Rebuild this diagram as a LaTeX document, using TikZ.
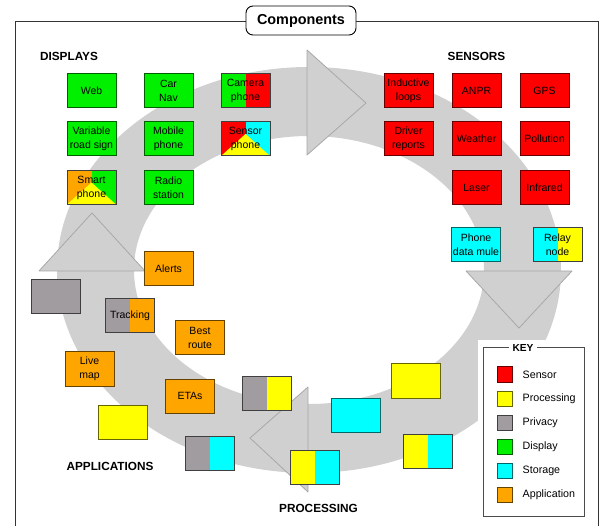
\documentclass[tikz,border=0pt]{standalone}
\usepackage{fontspec}
\setmainfont{Liberation Sans}
\usepackage{tikz}
\usetikzlibrary{positioning}
\definecolor{sensred}{HTML}{FF0000}
\definecolor{procyel}{HTML}{FFFF00}
\definecolor{privgray}{HTML}{A09CA0}
\definecolor{dispgreen}{HTML}{00F000}
\definecolor{storcyan}{HTML}{00FFFF}
\definecolor{applorange}{HTML}{FFA500}
\definecolor{ringgray}{HTML}{D0D0D0}
\definecolor{edgegray}{HTML}{A8A8A8}

\begin{document}
\begin{tikzpicture}[x=1pt,y=1pt,node distance=13.5pt and 27pt,font=\fontsize{10.5}{14}\selectfont,
 comp/.style={minimum width=49pt,minimum height=34pt,inner sep=0pt,align=center,line width=1pt},
 sensor/.style={comp,fill=sensred,draw=sensred!40!black},
 proc/.style={comp,fill=procyel,draw=procyel!40!black},
 priv/.style={comp,fill=privgray,draw=privgray!40!black},
 display/.style={comp,fill=dispgreen,draw=dispgreen!40!black},
 stor/.style={comp,fill=storcyan,draw=storcyan!40!black},
 appl/.style={comp,fill=applorange,draw=applorange!40!black},
 halves/.style 2 args={comp,draw=black!75,path picture={\fill[#1] (path picture bounding box.south west) rectangle (path picture bounding box.north); \fill[#2] (path picture bounding box.south) rectangle (path picture bounding box.north east);}},
 thirds/.style n args={3}{comp,draw=black!75,path picture={\fill[#1] (path picture bounding box.south west) rectangle (path picture bounding box.north); \fill[#2] (path picture bounding box.south) rectangle (path picture bounding box.north east); \fill[#3] (path picture bounding box.south west) -- ([yshift=5pt]path picture bounding box.center) -- (path picture bounding box.south east) -- cycle;}},
 bigarrow/.style={fill=ringgray,draw=edgegray,line width=0.8pt,line join=round},
 group/.style={font=\bfseries\fontsize{11.8}{14}\selectfont},
 keysq/.style={minimum width=15pt,minimum height=15pt,inner sep=0pt,line width=1pt},
 keytext/.style={font=\fontsize{10.7}{13}\selectfont,inner sep=0pt}]
\useasboundingbox (0,0) rectangle (602,525);
\draw[black!80,line width=0.9pt] (15,-10) rectangle (598,504);
\node[draw,fill=white,rounded corners=7pt,line width=0.9pt,minimum width=110pt,minimum height=29pt,font=\bfseries\fontsize{14.4}{17}\selectfont] (title) at (301,504.5) {Components};

\fill[ringgray,even odd rule] (309,255) ellipse [x radius=252,y radius=203] (309,255) ellipse [x radius=175,y radius=134];
\filldraw[bigarrow] (307,475) -- (307,370) -- (366,422) -- cycle;
\filldraw[bigarrow] (466,254) -- (572,254) -- (519,197) -- cycle;
\filldraw[bigarrow] (308,138) -- (308,33) -- (250,87) -- cycle;
\filldraw[bigarrow] (39,254) -- (145,254) -- (92,312) -- cycle;

\node[group] (displays) at (69,469) {DISPLAYS};
\node[group] (sensors) at (476.5,469) {SENSORS};
\node[group] (applications) at (110,59) {APPLICATIONS};
\node[group] (processing) at (318.5,17) {PROCESSING};

\node[display] (web) at (91.5,434.5) {Web};
\node[display,right=of web] (carnav) {Car\\Nav};
\node[halves={dispgreen}{sensred},right=of carnav] (camphone) {Camera\\phone};
\node[display,below=of web] (roadsign) {Variable\\road sign};
\node[display,below=of carnav] (mobile) {Mobile\\phone};
\node[thirds={sensred}{storcyan}{procyel},below=of camphone] (sensphone) {Sensor\\phone};
\node[thirds={applorange}{dispgreen}{procyel},below=of roadsign] (smart) {Smart\\phone};
\node[display,below=of mobile] (radio) {Radio\\station};

\node[sensor] (loops) at (408.5,434.5) {Inductive\\loops};
\node[sensor,right=18pt of loops] (anpr) {ANPR};
\node[sensor,right=18pt of anpr] (gps) {GPS};
\node[sensor,below=of loops] (driver) {Driver\\reports};
\node[sensor,below=of anpr] (weather) {Weather};
\node[sensor,below=of gps] (pollution) {Pollution};
\node[sensor,below=of weather] (laser) {Laser};
\node[sensor,below=of pollution] (infrared) {Infrared};
\node[stor] (mule) at (476,280.5) {Phone\\data mule};
\node[halves={storcyan}{procyel}] (relay) at (557.5,280.5) {Relay\\node};

\node[proc] (proca) at (416,144) {};
\node[stor] (stora) at (356,110) {};
\node[halves={procyel}{storcyan}] (procb) at (427.5,74) {};
\node[halves={procyel}{storcyan}] (procc) at (315,58) {};

\node[appl] (alerts) at (168.5,256.5) {Alerts};
\node[priv] (priva) at (56,228) {};
\node[halves={privgray}{applorange}] (tracking) at (130,209) {Tracking};
\node[appl] (route) at (200,187) {Best\\route};
\node[appl] (livemap) at (89.5,156) {Live\\map};
\node[appl] (etas) at (190,129) {ETAs};
\node[halves={privgray}{procyel}] (privb) at (267,132) {};
\node[proc] (procd) at (123,103) {};
\node[halves={privgray}{storcyan}] (privc) at (209.5,72) {};

\fill[white] (478,185) rectangle (597,0);
\draw[black!70,line width=0.9pt] (483,178) rectangle (584,9);
\node[fill=white,font=\bfseries\fontsize{10.2}{12}\selectfont,inner xsep=4pt] (key) at (523,177) {KEY};
\node[keysq,fill=sensred,draw=sensred!40!black] (ksens) at (504.5,150.5) {};
\node[keysq,fill=procyel,draw=procyel!40!black,below=8pt of ksens] (kproc) {};
\node[keysq,fill=privgray,draw=privgray!40!black,below=8pt of kproc] (kpriv) {};
\node[keysq,fill=dispgreen,draw=dispgreen!40!black,below=8pt of kpriv] (kdisp) {};
\node[keysq,fill=storcyan,draw=storcyan!40!black,below=8pt of kdisp] (kstor) {};
\node[keysq,fill=applorange,draw=applorange!40!black,below=8pt of kstor] (kappl) {};
\node[keytext,right=10pt of ksens] {Sensor};
\node[keytext,right=10pt of kproc] {Processing};
\node[keytext,right=10pt of kpriv] {Privacy};
\node[keytext,right=10pt of kdisp] {Display};
\node[keytext,right=10pt of kstor] {Storage};
\node[keytext,right=10pt of kappl] {Application};
\end{tikzpicture}
\end{document}
